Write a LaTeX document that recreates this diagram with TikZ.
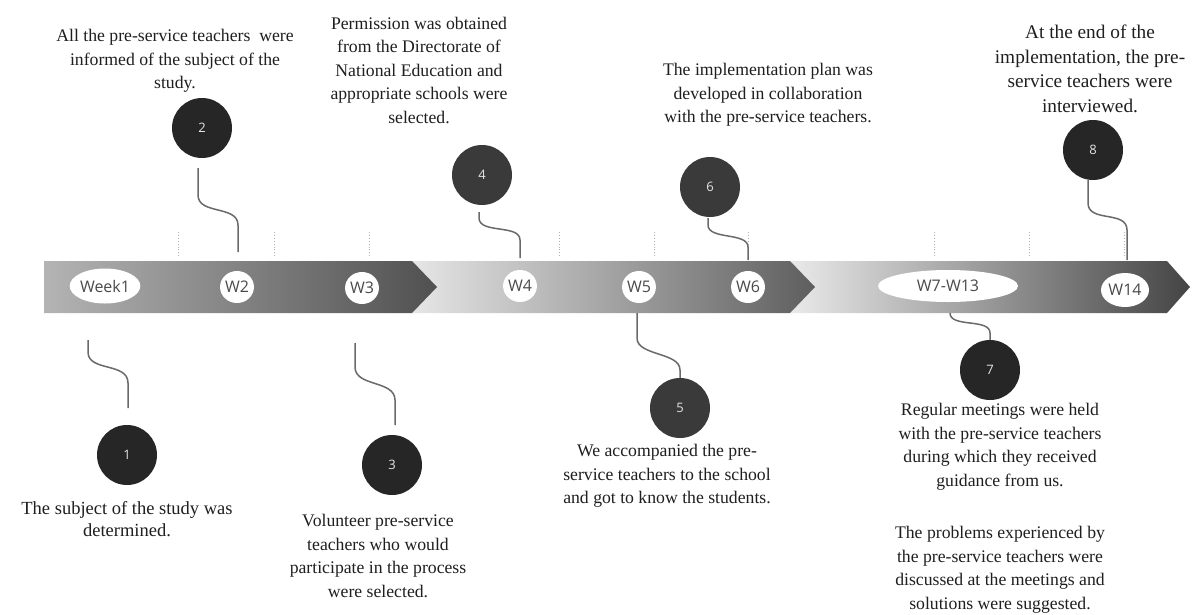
\documentclass[tikz,border=0pt]{standalone}
\usepackage{fontspec}
\setmainfont{Liberation Serif}
\newfontfamily\labfont{Open Sans}
\usetikzlibrary{shapes.geometric}
\definecolor{segAl}{HTML}{B4B4B4}
\definecolor{segAr}{HTML}{505050}
\definecolor{segBl}{HTML}{E6E6E6}
\definecolor{segBr}{HTML}{5E5E5E}
\definecolor{segCl}{HTML}{EAEAEA}
\definecolor{segCr}{HTML}{444444}
\definecolor{numdark}{HTML}{262626}
\definecolor{nummid}{HTML}{3A3A3A}
\definecolor{labgray}{HTML}{4A4A4A}
\definecolor{conngray}{HTML}{6A6A6A}
\definecolor{tickgray}{HTML}{B0B0B0}
\begin{document}
\begin{tikzpicture}[x=1pt,y=-1pt,
  txt/.style={align=center, font=\fontsize{17.7}{23.5}\selectfont, inner sep=0pt, text=black!88},
  num/.style={circle, fill=numdark, minimum size=60pt, inner sep=0pt, text=white!90!black, font=\labfont\fontsize{13}{15}\selectfont},
  wk/.style={ellipse, fill=white, inner sep=0pt, minimum width=32pt, minimum height=32pt, text=labgray, font=\labfont\fontsize{16}{18}\selectfont},
  conn/.style={draw=conngray, line width=1.5pt},
  tickline/.style={draw=tickgray, dotted, line width=0.9pt}]
\useasboundingbox (0,0) rectangle (1192,614);
\fill[white] (0,0) rectangle (1192,614);

% band segments
\path[left color=segCl, right color=segCr] (790,261) -- (1167,261) -- (1190,287) -- (1167,313) -- (790,313) -- cycle;
\path[left color=segBl, right color=segBr] (412,261) -- (790,261) -- (815,287) -- (790,313) -- (412,313) -- cycle;
\path[left color=segAl, right color=segAr] (44,261) -- (412,261) -- (437,287) -- (412,313) -- (44,313) -- cycle;

% ticks
\foreach \tx in {178,274,369,559,654,748,934,1029,1124}
  \draw[tickline] (\tx,232) -- (\tx,257);

% week labels
\node[wk, minimum width=60pt, minimum height=35pt] (w1) at (105,286) {Week1};
\node[wk] (w2) at (237,287) {W2};
\node[wk] (w3) at (362,288) {W3};
\node[wk] (w4) at (520,286) {W4};
\node[wk] (w5) at (639,287) {W5};
\node[wk] (w6) at (748,287) {W6};
\node[wk, minimum width=140pt, minimum height=32pt] (w7) at (948,286) {W7-W13};
\node[wk, minimum width=48pt, minimum height=34pt] (w14) at (1125,290) {W14};

% number circles
\node[num] (n1) at (127,455) {1};
\node[num] (n2) at (202,128) {2};
\node[num] (n3) at (392,465) {3};
\node[num, fill=nummid] (n4) at (482,175) {4};
\node[num, fill=nummid] (n5) at (680,408) {5};
\node[num, fill=nummid] (n6) at (710,187) {6};
\node[num] (n7) at (990,370) {7};
\node[num] (n8) at (1093,150) {8};

% connector free ends
\coordinate (c1a) at (88,340);  \coordinate (c1b) at (128,408);
\coordinate (c2a) at (198,168); \coordinate (c2b) at (238,252);
\coordinate (c3a) at (355,343); \coordinate (c3b) at (395,425);
\coordinate (c4a) at (479,212); \coordinate (c4b) at (520,258);
\coordinate (c5a) at (637,313);
\coordinate (c6a) at (708,218); \coordinate (c6b) at (748,260);
\coordinate (c7a) at (950,313);
\coordinate (c8a) at (1088,180); \coordinate (c8b) at (1127,260);

\draw[conn] (c1a) -- (88,352) .. controls (88,372) and (128,362) .. (128,383) -- (c1b);
\draw[conn] (c2a) -- (198,195) .. controls (198,215) and (238,205) .. (238,225) -- (c2b);
\draw[conn] (c3a) -- (355,367) .. controls (355,387) and (395,380) .. (395,400) -- (c3b);
\draw[conn] (c4a) -- (479,218) .. controls (479,234) and (520,224) .. (520,240) -- (c4b);
\draw[conn] (c5a) -- (637,338) .. controls (637,356) and (680,352) .. (680,370) -- (n5.north);
\draw[conn] (c6a) -- (708,225) .. controls (708,240) and (748,232) .. (748,247) -- (c6b);
\draw[conn] (c7a) .. controls (950,328) and (990,318) .. (990,333) -- (n7.north);
\draw[conn] (c8a) -- (1088,203) .. controls (1088,223) and (1127,210) .. (1127,230) -- (c8b);

% texts
\node[txt, font=\fontsize{18.5}{22}\selectfont] (t1) at (127,519) {The subject of the study was\\determined.};
\node[txt] (t2) at (175,61) {All the pre-service teachers\ \ were\\informed of the subject of the\\study.};
\node[txt] (t3) at (378,556) {Volunteer pre-service\\teachers who would\\participate in the process\\were selected.};
\node[txt] (t4) at (419,70) {Permission was obtained\\from the Directorate of\\National Education and\\appropriate schools were\\selected.};
\node[txt] (t5) at (667,476) {We accompanied the pre-\\service teachers to the school\\and got to know the students.};
\node[txt] (t6) at (768,95) {The implementation plan was\\developed in collaboration\\with the pre-service teachers.};
\node[txt] (t7) at (1000,447) {Regular meetings were held\\with the pre-service teachers\\during which they received\\guidance from us.};
\node[txt] (t7b) at (1000,570) {The problems experienced by\\the pre-service teachers were\\discussed at the meetings and\\solutions were suggested.};
\node[txt, font=\fontsize{19.3}{24.5}\selectfont] (t8) at (1090,69) {At the end of the\\implementation, the pre-\\service teachers were\\interviewed.};
\end{tikzpicture}
\end{document}
